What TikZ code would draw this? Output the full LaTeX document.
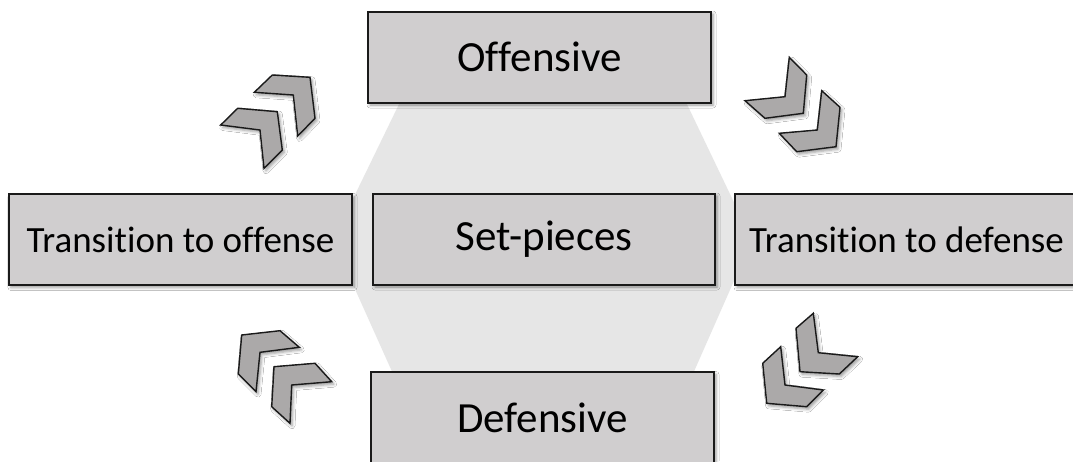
\documentclass[tikz,border=0pt]{standalone}
\usepackage{fontspec}
\setmainfont{Carlito}[Ligatures=NoCommon]
\usetikzlibrary{shadows.blur}
\definecolor{boxgray}{HTML}{D0CECF}
\definecolor{hexgray}{HTML}{E6E6E6}
\definecolor{chevgray}{HTML}{ABA9A9}
\definecolor{edgeblack}{HTML}{1A1A1A}
\tikzset{
  soft/.style={blur shadow={shadow xshift=2pt, shadow yshift=-2.5pt, shadow blur radius=3pt, shadow opacity=40}},
  phase/.style={draw=edgeblack, line width=2pt, fill=boxgray, soft,
    minimum height=91pt, inner sep=0pt, font=\fontsize{37}{42}\selectfont},
  core/.style={phase, font=\fontsize{43}{48}\selectfont},
  chev/.style={draw=edgeblack, line width=1.4pt, fill=chevgray, line join=miter, soft},
}
\begin{document}
\begin{tikzpicture}[x=1pt,y=-1pt]
\clip (0,0) rectangle (1073,461);
\fill[white] (0,0) rectangle (1073,461);

% central hexagon behind the boxes
\fill[hexgray] (402,98) -- (684,98) -- (752,240) -- (692,376) -- (394,376) -- (333,240) -- cycle;

% the five phases
\node[core,  minimum width=343pt] (off)  at (539.5,57)  {Offensive};
\node[core,  minimum width=342pt] (set)  at (544,239)   {Set-pieces};
\node[core,  minimum width=343pt] (def)  at (542.5,417.5) {Defensive};
\node[phase, minimum width=343pt] (toff) at (180.5,239.5) {Transition to offense};
\node[phase, minimum width=343pt] (tdef) at (906.5,239.5) {Transition to defense};

% chevron pairs showing the clockwise cycle
% upper left
\filldraw[chev] (254.3,92.3) -- (272.3,75) -- (310,77.3) -- (315,118.3) -- (297.7,136) -- (293.3,95) -- cycle;
\filldraw[chev] (220.7,125) -- (237.7,108.3) -- (277.3,111.7) -- (282.3,150) -- (264,168.3) -- (260,130) -- cycle;
% upper right
\filldraw[chev] (803.3,113.3) -- (806.7,75) -- (789.3,57.3) -- (785,96.7) -- (745,100.7) -- (765,118.3) -- cycle;
\filldraw[chev] (779.3,133.3) -- (796.7,151.7) -- (836,146.7) -- (840,107.3) -- (821.7,90.7) -- (817.3,130) -- cycle;
% lower right
\filldraw[chev] (796,328.3) -- (813.3,313.3) -- (818.3,352.7) -- (857.7,356.7) -- (839.3,374) -- (800,371.7) -- cycle;
\filldraw[chev] (762.7,363.3) -- (780.7,346.7) -- (785,385) -- (823.3,390) -- (806.7,406.7) -- (766.7,403.3) -- cycle;
% lower left
\filldraw[chev] (241.7,335) -- (280,330.7) -- (299.3,347.3) -- (260,352.3) -- (256,391.7) -- (238.3,374) -- cycle;
\filldraw[chev] (274,366.7) -- (315,363.3) -- (331.7,381.7) -- (291.7,385) -- (290,423.3) -- (271.7,406.7) -- cycle;
\end{tikzpicture}
\end{document}
